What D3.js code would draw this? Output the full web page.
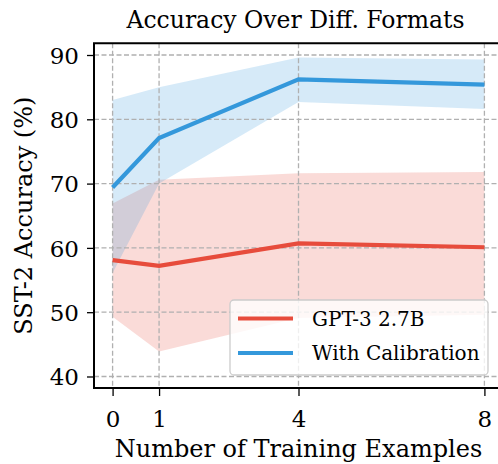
<!DOCTYPE html>
<head>
  <meta charset="utf-8">
  <script src="https://d3js.org/d3.v7.min.js"></script>
  <style>
    body { margin: 0; background: #fff; }
    svg { display: block; }
    text { font-family: "DejaVu Serif", serif; fill: #000; }
  </style>
</head>
<body>
  <svg width="498" height="464"></svg>
  <script>
    // number of training examples
    var shots = [0, 1, 4, 8];
    // GPT-3 2.7B accuracy: mean and band
    var gptMean = [58.1, 57.2, 60.7, 60.1];
    var gptLow = [49.3, 43.9, 49.1, 49.6];
    var gptHigh = [66.9, 70.6, 71.6, 71.8];
    // with calibration
    var calMean = [69.4, 77.1, 86.2, 85.4];
    var calLow = [56.1, 70.0, 82.7, 81.6];
    var calHigh = [83.0, 85.0, 89.6, 89.3];
    var yTicks = [40, 50, 60, 70, 80, 90];
    var seriesNames = ['GPT-3 2.7B', 'With Calibration'];

    var red = '#e74c3c', blue = '#3498db';
    // plot box (right edge falls outside the picture)
    var x0 = 94, x1 = 503, y0 = 43.3, y1 = 388;

    var svg = d3.select('svg');

    var xScale = d3.scaleLinear().domain([-0.4, 8.4]).range([x0, x1]);
    var yScale = d3.scaleLinear().domain([38.21, 91.82]).range([y1, y0]);

    function rows(mean, lo, hi) {
      return shots.map(function (s, i) {
        return { x: s, y: mean[i], lo: lo[i], hi: hi[i] };
      });
    }
    var gpt = rows(gptMean, gptLow, gptHigh);
    var cal = rows(calMean, calLow, calHigh);

    var area = d3.area()
      .x(function (d) { return xScale(d.x); })
      .y0(function (d) { return yScale(d.lo); })
      .y1(function (d) { return yScale(d.hi); });
    var line = d3.line()
      .x(function (d) { return xScale(d.x); })
      .y(function (d) { return yScale(d.y); });

    // bands
    svg.append('path').attr('d', area(gpt)).attr('fill', red).attr('fill-opacity', 0.2);
    svg.append('path').attr('d', area(cal)).attr('fill', blue).attr('fill-opacity', 0.2);

    // grid
    var grid = svg.append('g').attr('stroke', '#b0b0b0').attr('stroke-width', 1.3)
      .attr('stroke-dasharray', '5,2.5');
    grid.selectAll('.gx').data(shots).enter().append('line')
      .attr('x1', function (d) { return xScale(d); }).attr('x2', function (d) { return xScale(d); })
      .attr('y1', y0).attr('y2', y1);
    grid.selectAll('.gy').data(yTicks).enter().append('line')
      .attr('y1', function (d) { return yScale(d); }).attr('y2', function (d) { return yScale(d); })
      .attr('x1', x0).attr('x2', x1);

    // lines
    svg.append('path').attr('d', line(gpt)).attr('fill', 'none')
      .attr('stroke', red).attr('stroke-width', 4.2);
    svg.append('path').attr('d', line(cal)).attr('fill', 'none')
      .attr('stroke', blue).attr('stroke-width', 4.2);

    // axes
    var xAxis = d3.axisBottom(xScale).tickValues(shots).tickSize(8).tickPadding(15);
    var yAxis = d3.axisLeft(yScale).tickValues(yTicks).tickSize(7).tickPadding(8);

    var gx = svg.append('g').attr('transform', 'translate(0,' + y1 + ')').call(xAxis);
    var gy = svg.append('g').attr('transform', 'translate(' + x0 + ',0)').call(yAxis);
    [gx, gy].forEach(function (g) {
      g.select('.domain').remove();
      g.selectAll('line').attr('stroke', '#000').attr('stroke-width', 1.3);
      g.selectAll('text').style('font-size', '23px').attr('fill', '#000')
        .style('font-family', '"DejaVu Serif", serif');
    });
    gy.selectAll('text').attr('dy', '0.36em');

    // frame
    svg.append('path')
      .attr('d', 'M' + x1 + ',' + y0 + 'H' + x0 + 'V' + y1 + 'H' + x1)
      .attr('fill', 'none').attr('stroke', '#000').attr('stroke-width', 2);

    // labels
    svg.append('text').attr('x', (x0 + x1) / 2 - 3).attr('y', 28)
      .attr('text-anchor', 'middle').style('font-size', '23.5px')
      .text('Accuracy Over Diff. Formats');
    svg.append('text').attr('x', (x0 + x1) / 2).attr('y', 457)
      .attr('text-anchor', 'middle').style('font-size', '24px')
      .text('Number of Training Examples');
    svg.append('text')
      .attr('transform', 'translate(32,' + (y0 + y1) / 2 + ') rotate(-90)')
      .attr('text-anchor', 'middle').style('font-size', '24px')
      .text('SST-2 Accuracy (%)');

    // legend
    var lg = svg.append('g').attr('transform', 'translate(230,300)');
    lg.append('rect').attr('width', 258).attr('height', 75).attr('rx', 4)
      .attr('fill', '#fff').attr('fill-opacity', 0.8)
      .attr('stroke', '#cccccc').attr('stroke-width', 1.3);
    [red, blue].forEach(function (c, i) {
      var yy = 18.5 + i * 34.5;
      lg.append('line').attr('x1', 8).attr('x2', 63).attr('y1', yy).attr('y2', yy)
        .attr('stroke', c).attr('stroke-width', 4.2);
      lg.append('text').attr('x', 82).attr('y', yy).attr('dy', '0.36em')
        .style('font-size', '20px').text(seriesNames[i]);
    });
  </script>
</body>
